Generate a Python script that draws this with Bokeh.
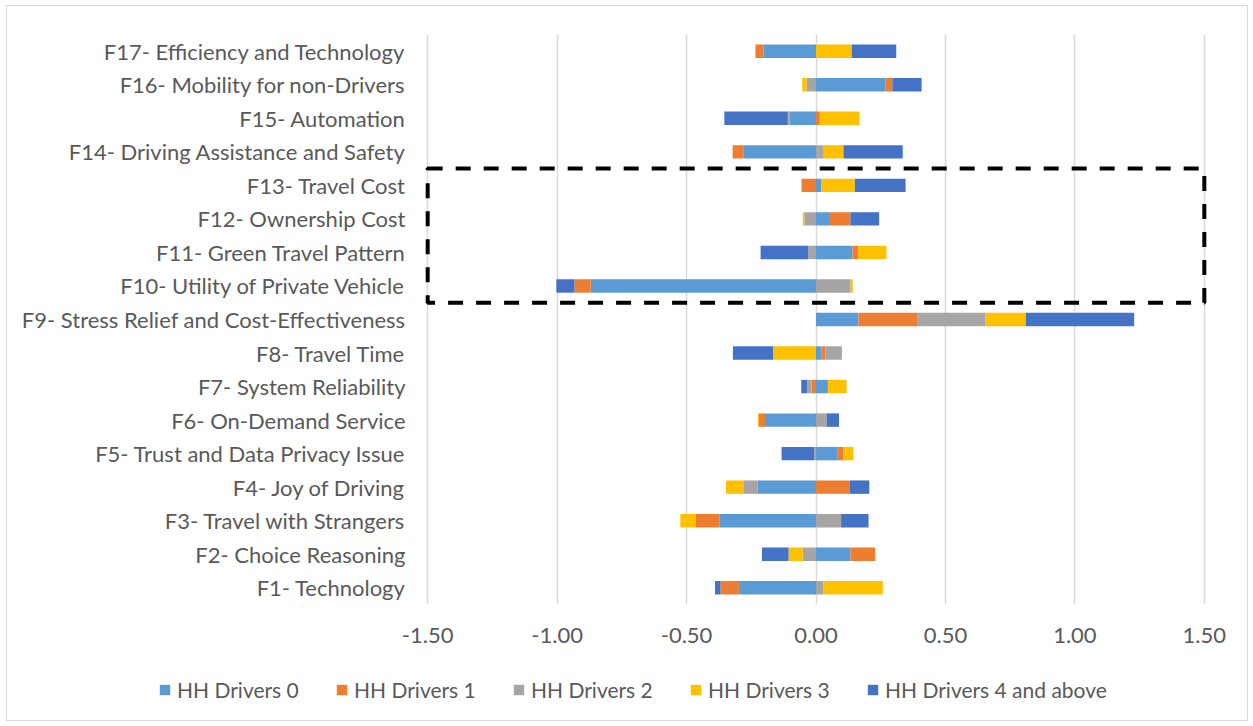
import numpy as np
from bokeh.plotting import figure
from bokeh.layouts import column
from bokeh.models import (ColumnDataSource, FixedTicker, Range1d, BoxAnnotation,
                          Legend, LegendItem)
from bokeh.embed import file_html
from bokeh.resources import INLINE

categories = ["F1- Technology", "F2- Choice Reasoning", "F3- Travel with Strangers",
              "F4- Joy of Driving", "F5- Trust and Data Privacy Issue",
              "F6- On-Demand Service", "F7- System Reliability", "F8- Travel Time",
              "F9- Stress Relief and Cost-Effectiveness", "F10- Utility of Private Vehicle",
              "F11- Green Travel Pattern", "F12- Ownership Cost", "F13- Travel Cost",
              "F14- Driving Assistance and Safety", "F15- Automation",
              "F16- Mobility for non-Drivers", "F17- Efficiency and Technology"]

series_names = ["HH Drivers 0", "HH Drivers 1", "HH Drivers 2", "HH Drivers 3",
                "HH Drivers 4 and above"]

hh0 = [-0.298, 0.133, -0.372, -0.226, 0.084, -0.197, 0.046, 0.022, 0.164, -0.870,
       0.141, 0.054, 0.021, -0.281, -0.101, 0.269, -0.202]
hh1 = [-0.071, 0.096, -0.094, 0.131, 0.022, -0.024, -0.017, 0.015, 0.229, -0.063,
       0.021, 0.079, -0.056, -0.041, 0.015, 0.026, -0.032]
hh2 = [0.029, -0.051, 0.097, -0.052, -0.007, 0.041, -0.018, 0.063, 0.262, 0.134,
       -0.030, -0.045, 0.0, 0.030, -0.008, -0.036, 0.0]
hh3 = [0.229, -0.055, -0.058, -0.070, 0.039, -0.004, 0.072, -0.166, 0.155, 0.008,
       0.110, -0.006, 0.129, 0.076, 0.153, -0.017, 0.138]
hh4 = [-0.021, -0.103, 0.106, 0.075, -0.126, 0.048, -0.022, -0.155, 0.419, -0.070,
       -0.184, 0.111, 0.196, 0.229, -0.245, 0.113, 0.172]

highlighted = ["F10- Utility of Private Vehicle", "F11- Green Travel Pattern",
               "F12- Ownership Cost", "F13- Travel Cost"]

x_ticks = [-1.5, -1.0, -0.5, 0.0, 0.5, 1.0, 1.5]

colors = ["#5B9BD5", "#ED7D31", "#A5A5A5", "#FFC000", "#4472C4"]
FONT = "Lato"
TXT = "#595959"

ypos = np.arange(1, len(categories) + 1)

# ---------------- main chart ----------------
p = figure(width=1240, height=648, output_backend="svg",
           toolbar_location=None, x_range=Range1d(-1.52, 1.52),
           y_range=Range1d(0.5, len(categories) + 0.5),
           min_border_left=415, min_border_right=38, min_border_top=28,
           min_border_bottom=50)
p.outline_line_color = None
p.background_fill_color = "white"
p.border_fill_color = "white"

pos_base = np.zeros(len(categories))
neg_base = np.zeros(len(categories))
for name, vals, col in zip(series_names, [hh0, hh1, hh2, hh3, hh4], colors):
    v = np.array(vals, dtype=float)
    left = np.where(v >= 0, pos_base, neg_base + v)
    right = np.where(v >= 0, pos_base + v, neg_base)
    pos_base = pos_base + np.where(v >= 0, v, 0)
    neg_base = neg_base + np.where(v < 0, v, 0)
    src = ColumnDataSource(dict(y=ypos, left=left, right=right))
    p.hbar(y="y", left="left", right="right", height=0.4, source=src,
           fill_color=col, line_color=None)

# dashed highlight box around highlighted factors
idx = [categories.index(c) + 1 for c in highlighted]
box = BoxAnnotation(left=x_ticks[0], right=x_ticks[-1], bottom=min(idx) - 0.5,
                    top=max(idx) + 0.5, fill_alpha=0, line_color="black",
                    line_alpha=1.0, line_width=4, line_dash="15 13")
p.add_layout(box)

p.xaxis.ticker = FixedTicker(ticks=x_ticks)
p.xaxis.major_label_overrides = {t: f"{t:.2f}" for t in x_ticks}
p.xaxis.axis_line_color = None
p.xaxis.major_tick_line_color = None
p.xaxis.minor_tick_line_color = None
p.xaxis.major_label_text_font = FONT
p.xaxis.major_label_text_font_size = "22px"
p.xaxis.major_label_text_color = TXT
p.xaxis.major_label_standoff = 17

p.yaxis.ticker = FixedTicker(ticks=list(ypos))
p.yaxis.major_label_overrides = {int(i): c for i, c in zip(ypos, categories)}
p.yaxis.axis_line_color = None
p.yaxis.major_tick_line_color = None
p.yaxis.minor_tick_line_color = None
p.yaxis.major_tick_out = 0
p.yaxis.major_label_text_font = FONT
p.yaxis.major_label_text_font_size = "22px"
p.yaxis.major_label_text_color = TXT
p.yaxis.major_label_standoff = 17

p.xgrid.ticker = FixedTicker(ticks=x_ticks)
p.xgrid.grid_line_color = "#D9D9D9"
p.xgrid.grid_line_width = 1.5
p.ygrid.grid_line_color = None

# ---------------- legend strip ----------------
lg = figure(width=1240, height=66, output_backend="svg", toolbar_location=None,
            x_axis_type=None, y_axis_type=None, x_range=Range1d(0, 1),
            y_range=Range1d(0, 1), min_border=0)
lg.outline_line_color = None
lg.background_fill_color = "white"
lg.border_fill_color = "white"
for f in (p, lg):
    try:
        f.frame_align = False
    except Exception:
        pass

# zero-width placeholder bars: they only provide the legend swatches
swatches = [lg.hbar(y=[0.5], left=[0], right=[0], height=0.4, fill_color=c,
                    line_color=None) for c in colors]
legend = Legend(items=[LegendItem(label=n, renderers=[r])
                       for n, r in zip(series_names, swatches)],
                orientation="horizontal", location=(151, 18),
                glyph_width=13, glyph_height=13, label_standoff=6,
                label_width=122, spacing=36, padding=0, margin=0,
                border_line_color=None, background_fill_alpha=0,
                label_text_font=FONT, label_text_font_size="21px",
                label_text_color=TXT)
lg.add_layout(legend, "center")

layout = column(p, lg, spacing=0)
layout.styles = {"border": "1px solid #D9D9D9", "margin": "5px 0px 0px 6px"}

open("out.html", "w").write(file_html(layout, INLINE))
